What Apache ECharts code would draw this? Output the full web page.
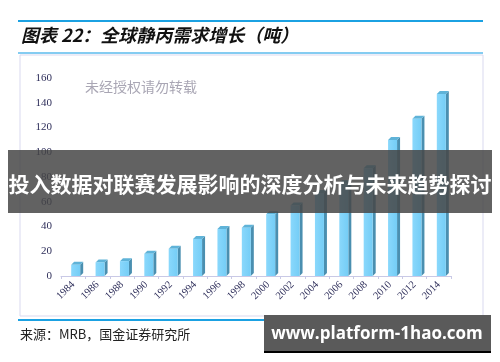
<!DOCTYPE html>
<html><head><meta charset="utf-8">
<script src="https://cdn.jsdelivr.net/npm/echarts@6/dist/echarts.min.js"></script>
<style>html,body{margin:0;padding:0;background:#fff}#c{width:500px;height:362px}</style>
</head><body><div id="c"></div>
<script>
var years = ['1984','1986','1988','1990','1992','1994','1996','1998','2000','2002','2004','2006','2008','2010','2012','2014'];
var demand = [9, 11, 12, 18, 22, 30, 38, 39, 50, 57, 67, 75, 87, 110, 127, 147];
var yTicks = [0, 20, 40, 60, 80, 100, 120, 140, 160];
var titleText = '图表 22：全球静丙需求增长（吨）';
var sourceText = '来源：MRB，国金证券研究所';
var watermark = '未经授权请勿转载';
var bannerText = '投入数据对联赛发展影响的深度分析与未来趋势探讨';
var siteText = 'www.platform-1hao.com';

var chart = echarts.init(document.getElementById('c'), null, {renderer:'canvas'});
var W = 9, D = 3;
chart.setOption({
  animation:false,
  grid:{left:61, right:49, top:78, bottom:86},
  xAxis:{type:'category', data:years, boundaryGap:true,
    axisLine:{lineStyle:{color:'#c9c9e6', width:1}},
    axisTick:{show:true, length:3, lineStyle:{color:'#c9c9e6'}},
    axisLabel:{rotate:45, margin:7, color:'#2e2e5a', fontFamily:'Liberation Serif', fontSize:10.5}},
  yAxis:{type:'value', min:yTicks[0], max:yTicks[yTicks.length-1], interval:20,
    axisLine:{show:false}, axisTick:{show:false}, splitLine:{show:false},
    axisLabel:{margin:9, color:'#2e2e5a', fontFamily:'Liberation Serif', fontSize:11}},
  series:[{type:'custom', data:demand.map(function(v,i){return [i,v];}), encode:{x:0,y:1},
    renderItem:function(params, api){
      var base = api.coord([api.value(0), 0]);
      var top = api.coord([api.value(0), api.value(1)]);
      var x0 = base[0]-2, ty = top[1], by = base[1];
      return {type:'group', children:[
        {type:'polygon', shape:{points:[[x0+W,ty],[x0+W+D,ty-D],[x0+W+D,by-D],[x0+W,by]]}, style:{fill:'#4a8fb0'}},
        {type:'polygon', shape:{points:[[x0,ty],[x0+D,ty-D],[x0+W+D,ty-D],[x0+W,ty]]}, style:{fill:'#5fb3d8'}},
        {type:'rect', shape:{x:x0, y:ty, width:W, height:by-ty}, style:{fill:new echarts.graphic.LinearGradient(0,0,1,0,[{offset:0,color:'#8ad8fc'},{offset:1,color:'#74cdf6'}])}}
      ]};
    }}],
  graphic:[
    {type:'rect', z:-1, shape:{x:20, y:55, width:463, height:261}, style:{fill:'none', stroke:'#d9d9ef', lineWidth:1}},
    {type:'line', shape:{x1:18, y1:21, x2:483, y2:21}, style:{stroke:'#1ba1e2', lineWidth:2}},
    {type:'line', shape:{x1:18, y1:53, x2:483, y2:53}, style:{stroke:'#5bbbec', lineWidth:1.5}},
    {type:'line', shape:{x1:18, y1:320, x2:483, y2:320}, style:{stroke:'#1ba1e2', lineWidth:2}},
    {type:'text', style:{x:21, y:35, text:titleText, fill:'#111', font:'italic bold 18px "Noto Sans CJK SC"', textVerticalAlign:'middle'}},
    {type:'text', style:{x:85, y:87, text:watermark, fill:'#a9a6b4', font:'14px "Noto Sans CJK SC"', textVerticalAlign:'middle'}},
    {type:'text', style:{x:20, y:334, text:sourceText, fill:'#222', font:'13px "Noto Sans CJK SC"', textVerticalAlign:'middle'}},
    {type:'rect', z:100, shape:{x:8, y:150, width:484, height:63}, style:{fill:'rgba(70,70,70,0.85)'}},
    {type:'text', z:101, style:{x:250, y:184, text:bannerText, fill:'#fff', font:'bold 21px "Noto Sans CJK SC"', textAlign:'center', textVerticalAlign:'middle'}},
    {type:'rect', z:100, shape:{x:264, y:315, width:227, height:38}, style:{fill:'#5a5a5a'}},
    {type:'line', z:101, shape:{x1:264, y1:352, x2:491, y2:352}, style:{stroke:'#000', lineWidth:2}},
    {type:'text', z:101, style:{x:377, y:334, text:siteText, fill:'#fff', font:'bold 17px "Open Sans"', textAlign:'center', textVerticalAlign:'middle'}}
  ]
});
</script></body></html>
